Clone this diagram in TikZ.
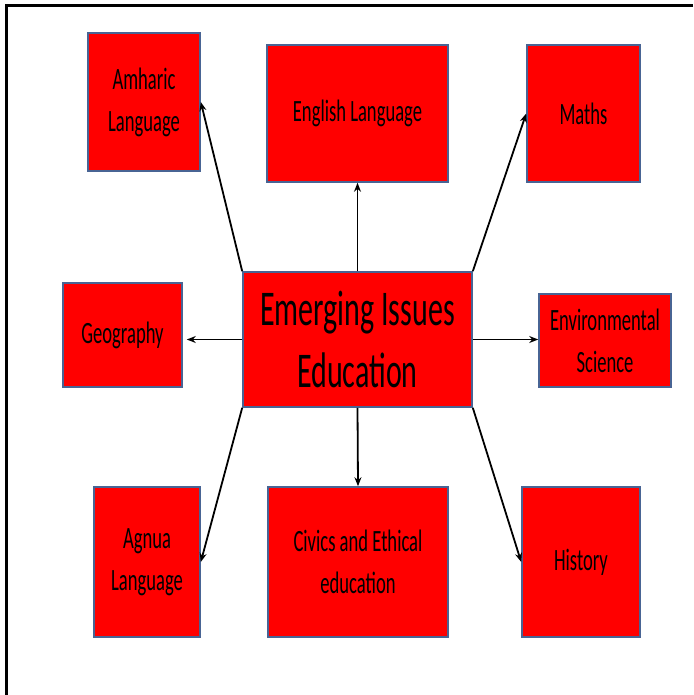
\documentclass[tikz,border=0pt]{standalone}
\usepackage{fontspec}
\usepackage{tikz}
\usetikzlibrary{arrows.meta,positioning}
\newfontfamily\narrowfont[FakeStretch=0.6]{Carlito}
\definecolor{boxline}{RGB}{72,100,148}
\definecolor{boxfill}{RGB}{255,0,0}

\begin{document}
\begin{tikzpicture}[x=1pt,y=-1pt,
     >={Stealth[length=9pt,width=7pt]},
     subj/.style={draw=boxline,fill=boxfill,line width=1.6pt,inner sep=2pt,align=center,
                  font=\narrowfont\fontsize{31}{42}\selectfont},
     core/.style={subj,font=\narrowfont\fontsize{50}{62}\selectfont},
     edg/.style={line width=1.8pt,->}]
    \useasboundingbox (0,0) rectangle (693,695);
    \draw[line width=3pt] (693,6) -- (6,6) -- (6,695);
    % centre
    \node[core] (issues) at (357.5,339.5) [minimum width=229pt,minimum height=135pt] {Emerging Issues\\Education};
    % subjects round it
    \node[subj] (amharic) at (144,102)   [minimum width=112pt,minimum height=138pt] {Amharic\\Language};
    \node[subj] (english) at (357.5,113.5) [minimum width=181pt,minimum height=137pt] {English Language};
    \node[subj] (maths)   at (583.5,113.5) [minimum width=113pt,minimum height=137pt] {Maths};
    \node[subj] (geog)    at (122.5,335) [minimum width=119pt,minimum height=104pt] {Geography};
    \node[subj] (envsci)  at (605,340.5) [minimum width=132pt,minimum height=93pt] {Environmental\\Science};
    \node[subj] (agnua)   at (147,562)   [minimum width=106pt,minimum height=150pt] {Agnua\\Language};
    \node[subj] (civics)  at (358,562)   [minimum width=180pt,minimum height=150pt] {Civics and Ethical\\education};
    \node[subj] (history) at (581,562)   [minimum width=118pt,minimum height=150pt] {History};
    \draw[edg] (issues.north west) -- (amharic.east);
    \draw[edg] (issues.north)      -- (english.south);
    \draw[edg] (issues.north east) -- (maths.west);
    \draw[edg,shorten >=4pt] (issues.west) -- (issues.west -| geog.east);
    \draw[edg] (issues.east)       -- (issues.east -| envsci.west);
    \draw[edg] (issues.south west) -- (agnua.east);
    \draw[edg] (issues.south)      -- (civics.north);
    \draw[edg] (issues.south east) -- (history.west);
  \end{tikzpicture}
\end{document}
